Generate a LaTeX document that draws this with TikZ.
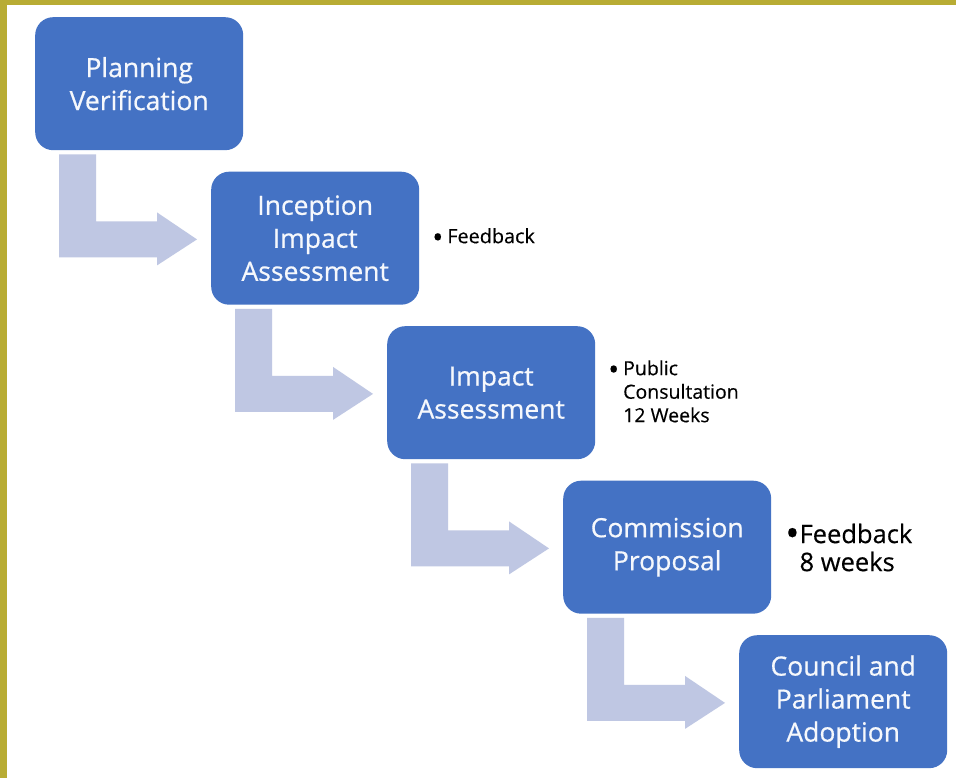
\documentclass[tikz,border=0pt]{standalone}
\usepackage{fontspec}
\setmainfont{Open Sans}
\newfontfamily\boxfont{Open Sans}[FakeBold=0.6]
\newfontfamily\notefont{Open Sans}[FakeBold=0.3]
\definecolor{boxblue}{RGB}{68,114,196}
\definecolor{arrowblue}{RGB}{191,199,227}
\definecolor{frameol}{RGB}{184,172,52}
\definecolor{boxtext}{RGB}{246,248,252}
\newcommand{\bigdot}[1]{\raisebox{#1}{\scalebox{1.5}{•}}}
\begin{document}
\begin{tikzpicture}[x=1pt,y=-1pt,
  stepbox/.style={fill=boxblue, rounded corners=18pt, minimum width=208pt, minimum height=133pt,
    inner sep=0pt, anchor=north west, align=center, text=boxtext,
    font=\boxfont\fontsize{26.5}{33}\selectfont},
  note/.style={anchor=west, inner sep=0pt, text=black},
  bentarrow/.style={fill=arrowblue}
]
\useasboundingbox (0,0) rectangle (956,778);
\fill[white] (0,0) rectangle (956,778);
\fill[frameol] (0,0) rectangle (956,5);
\fill[frameol] (0,0) rectangle (7,778);

\node[stepbox] (b1) at (35,17) {Planning\\Verification};
\node[stepbox] (b2) at (211,171.5) {Inception\\Impact\\Assessment};
\node[stepbox] (b3) at (387,326) {Impact\\Assessment};
\node[stepbox] (b4) at (563,480.5) {Commission\\Proposal};
\node[stepbox] (b5) at (739,635) {Council and\\Parliament\\Adoption};

\foreach \a in {b1,b2,b3,b4}{
  \fill[bentarrow] ([shift={(24,4)}]\a.south west) -- ++(37,0) -- ++(0,67) -- ++(61,0)
    -- ++(0,-9) -- ++(40,27) -- ++(-40,26) -- ++(0,-8) -- ++(-98,0) -- cycle;
}

\node[note, font=\notefont\fontsize{19.8}{23.5}\selectfont] (n2) at (432,238.5)
  {\begin{tabular}{@{}l@{\hspace{4pt}}l@{}}\bigdot{-4.5pt}&Feedback\end{tabular}};
\node[note, font=\notefont\fontsize{19.5}{23.5}\selectfont] (n3) at (608,394)
  {\begin{tabular}{@{}l@{\hspace{4pt}}l@{}}\bigdot{-4.5pt}&Public\\&Consultation\\&12 Weeks\end{tabular}};
\node[note, font=\notefont\fontsize{25.5}{28}\selectfont] (n4) at (785,551.5)
  {\begin{tabular}{@{}l@{\hspace{0pt}}l@{}}\bigdot{-3.5pt}&Feedback\\&8 weeks\end{tabular}};
\end{tikzpicture}
\end{document}
